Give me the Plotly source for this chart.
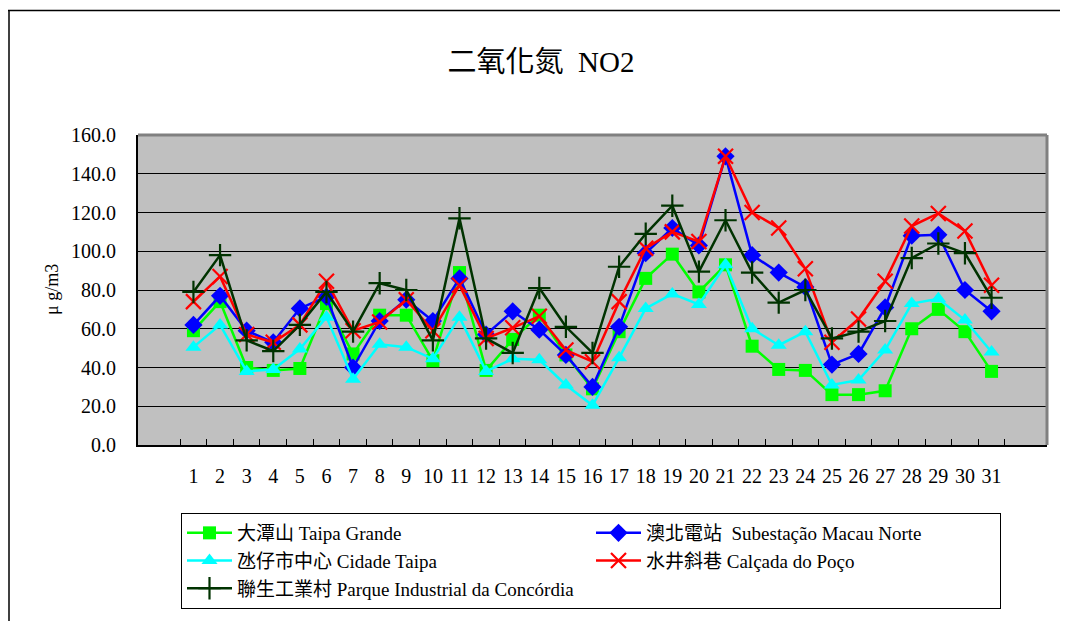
import plotly.graph_objects as go

days = [str(d) for d in range(1, 32)]

taipa_grande = [59, 74, 40, 38.5, 39.5, 73, 47, 67, 67, 43.5, 89, 38.5, 54.5, 67, 46.5, 29,
                58.5, 86, 98.5, 79, 93, 51, 39, 38.5, 26, 26, 28, 60, 70, 58.5, 38]
macau_norte = [62, 77, 59, 53, 70.5, 76.5, 40, 64, 75, 64, 86, 57, 69, 59.5, 46.5, 30,
               61, 99, 112, 103, 149, 98, 89, 81.5, 41.5, 47, 71, 108, 108.5, 80, 69]
cidade_taipa = [50.5, 62, 38, 39, 49.5, 66, 34, 52, 50.5, 44.5, 66, 38, 44.5, 44, 31, 20.5,
                45, 70.5, 78, 72.5, 93, 60, 51.5, 58.5, 31, 33.5, 49, 73, 75.5, 64.5, 48]
calcada_poco = [74, 87, 57, 53, 62, 84.5, 59, 63.5, 75, 59, 82.5, 55, 60.5, 66.5, 49, 43,
                74, 101.5, 110, 105, 149, 120, 112, 91, 53, 65, 84.5, 113, 119.5, 110.5, 82.5]
concordia = [79, 98, 54, 48.5, 62, 79, 58.5, 83.5, 80, 54, 117, 55, 47.5, 81, 61, 47.5,
             92, 109, 123.5, 89.5, 116, 89, 73.5, 80, 55, 58.5, 64, 96.5, 104, 99, 76]

series_names = [
    "大潭山 Taipa Grande",
    "澳北電站\u00a0 Subestação Macau Norte",
    "氹仔市中心 Cidade Taipa",
    "水井斜巷 Calçada do Poço",
    "聯生工業村 Parque Industrial da Concórdia",
]
series_values = [taipa_grande, macau_norte, cidade_taipa, calcada_poco, concordia]
colors = ["#00FF00", "#0000FF", "#00FFFF", "#FF0000", "#003300"]
symbols = ["square", "diamond", "triangle-up", "x-thin", "cross-thin"]
sizes = [13, 14, 14, 15, 16]

yticks = [0, 20, 40, 60, 80, 100, 120, 140, 160]
ytick_text = [f"{v:.1f}" for v in yticks]

FONT = "Liberation Serif, Noto Sans CJK TC, serif"

fig = go.Figure()
for name, vals, col, sym, sz in zip(series_names, series_values, colors, symbols, sizes):
    marker = dict(symbol=sym, size=sz, color=col)
    if sym in ("x-thin", "cross-thin"):
        marker["line"] = dict(color=col, width=2.2)
    fig.add_trace(go.Scatter(
        x=days, y=vals, name=name, mode="lines+markers",
        line=dict(color=col, width=2.5),
        marker=marker,
    ))

# page body has an 8px margin; figure coordinates = page coordinates - 8
OFF = 8
W, H = 1068 - OFF, 621 - OFF
L, R, T, B = 130, 21, 127, 176
pw = W - L - R
ph = H - T - B

def px_x(x_page):
    return (x_page - OFF - L) / pw

def px_y(y_page):
    return (H - B - (y_page - OFF)) / ph

fig.update_layout(
    width=W, height=H,
    margin=dict(l=L, r=R, t=T, b=B, autoexpand=False),
    paper_bgcolor="white",
    plot_bgcolor="#C0C0C0",
    font=dict(family=FONT, color="black", size=18),
    showlegend=True,
    title=dict(text="二氧化氮\u00a0 NO2", x=(541 - OFF) / W, xanchor="center", xref="container",
               y=1 - (62 - OFF) / H, yanchor="middle", font=dict(size=29, family=FONT, color="black")),
    xaxis=dict(type="category", categoryorder="array", categoryarray=days,
               showline=True, linecolor="black", linewidth=2,
               ticks="inside", ticklen=6, tickcolor="black", tickwidth=1,
               tickson="boundaries", showgrid=False, zeroline=False, tickangle=0,
               automargin=False,
               tickfont=dict(size=20, family=FONT), ticklabelstandoff=12),
    yaxis=dict(range=[0, 160], tickvals=yticks, ticktext=ytick_text,
               showline=True, linecolor="black", linewidth=2,
               ticks="inside", ticklen=5, tickcolor="black", automargin=False,
               showgrid=True, gridcolor="black", gridwidth=1, zeroline=False,
               tickfont=dict(size=20, family=FONT), ticklabelstandoff=16),
    legend=dict(orientation="h", x=px_x(181), xanchor="left", y=px_y(513), yanchor="top",
                bgcolor="white", bordercolor="black", borderwidth=1,
                font=dict(size=19, family=FONT), entrywidth=349, entrywidthmode="pixels",
                itemwidth=45, traceorder="normal"),
    annotations=[dict(text="μ g/m3", x=px_x(52), y=0.5, xref="paper", yref="paper",
                      textangle=-90, showarrow=False, xanchor="center", yanchor="middle",
                      font=dict(size=18, family=FONT))],
    shapes=[
        dict(type="line", xref="paper", yref="paper", x0=0, x1=1, y0=1, y1=1,
             line=dict(color="#808080", width=3)),
        dict(type="line", xref="paper", yref="paper", x0=1, x1=1, y0=0, y1=1,
             line=dict(color="#808080", width=3)),
        dict(type="line", xref="paper", yref="paper", x0=px_x(8), x1=px_x(1068), y0=px_y(10.5), y1=px_y(10.5),
             line=dict(color="black", width=1.5)),
        dict(type="line", xref="paper", yref="paper", x0=px_x(9), x1=px_x(9), y0=px_y(10.5), y1=px_y(625),
             line=dict(color="black", width=1.5)),
    ],
)

fig.write_html("out.html")
